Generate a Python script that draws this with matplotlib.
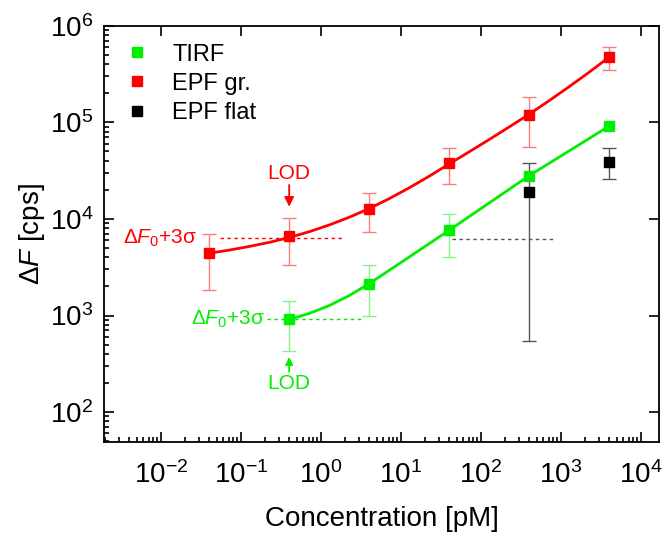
import numpy as np
import matplotlib
matplotlib.use("Agg")
import matplotlib.pyplot as plt
from matplotlib.lines import Line2D
from matplotlib.ticker import FixedLocator, LogLocator, NullFormatter

plt.rcParams['font.family'] = ['Liberation Sans', 'DejaVu Sans']
plt.rcParams['mathtext.fontset'] = 'custom'
plt.rcParams['mathtext.rm'] = 'Liberation Sans'
plt.rcParams['mathtext.it'] = 'Liberation Sans:italic'
plt.rcParams['axes.unicode_minus'] = False

# concentration [pM]
conc = [0.04, 0.4, 4, 40, 400, 4000]

# EPF gr. (red)
epf_gr = [4420, 6730, 12700, 37900, 120000, 476000]
epf_gr_lo = [1850, 3340, 7350, 23000, 55600, 350000]
epf_gr_hi = [7000, 10200, 18400, 53800, 183000, 601000]

# TIRF (green) - starts at 0.4 pM
tirf_conc = [0.4, 4, 40, 400, 4000]
tirf = [913, 2130, 7640, 28000, 91600]
tirf_lo = [425, 1000, 4080, np.nan, np.nan]
tirf_hi = [1410, 3300, 11300, np.nan, np.nan]

# EPF flat (black)
flat_conc = [400, 4000]
flat = [19200, 39200]
flat_lo = [542, 26200]
flat_hi = [37900, 53800]

# fit curves
fit_x = [0.04, 0.0711, 0.1265, 0.225, 0.4, 0.711, 1.265, 2.25, 4, 7.11, 12.65,
         22.5, 40, 71.1, 126.5, 225, 400, 711, 1265, 2250, 4000]
red_fit_y = [4416, 4758, 5188, 5721, 6420, 7371, 8660, 10410, 12810, 16220, 21010,
             27700, 37150, 49550, 66450, 89660, 121600, 167900, 234400, 331100, 473200]
green_fit_x = fit_x[4:]
green_fit_y = [912, 1050, 1266, 1607, 2138, 2935, 4036, 5553, 7638, 10580, 14640,
               20270, 28050, 37720, 50700, 68150, 91620]

RED = '#ff0000'
GREEN = '#00ee00'

fig = plt.figure(figsize=(6.64, 5.39), dpi=100)
ax = fig.add_axes([0.157, 0.18, 0.836, 0.772])
ax.set_xscale('log')
ax.set_yscale('log')
ax.set_xlim(10**-2.71, 10**4.23)
ax.set_ylim(10**1.69, 10**6)


def err(vals, lo, hi):
    v = np.array(vals, float)
    return np.vstack([v - np.array(lo, float), np.array(hi, float) - v])


# error bars
ax.errorbar(conc, epf_gr, yerr=err(epf_gr, epf_gr_lo, epf_gr_hi), fmt='none',
            ecolor='#f08080', elinewidth=1.0, capsize=5, capthick=1.0, zorder=2)
m = ~np.isnan(np.array(tirf_lo))
ax.errorbar(np.array(tirf_conc)[m], np.array(tirf)[m],
            yerr=err(np.array(tirf)[m], np.array(tirf_lo)[m], np.array(tirf_hi)[m]),
            fmt='none', ecolor='#8af08a', elinewidth=1.0, capsize=5, capthick=1.0, zorder=2)
ax.errorbar(flat_conc, flat, yerr=err(flat, flat_lo, flat_hi), fmt='none',
            ecolor='#555555', elinewidth=1.0, capsize=5, capthick=1.0, zorder=2)

# fit curves
ax.plot(fit_x, red_fit_y, color=RED, lw=2, zorder=3)
ax.plot(green_fit_x, green_fit_y, color=GREEN, lw=2, zorder=3)

# markers
ax.plot(tirf_conc, tirf, ls='none', marker='s', ms=7, color=GREEN, zorder=4)
ax.plot(conc, epf_gr, ls='none', marker='s', ms=7, color=RED, zorder=4)
ax.plot(flat_conc, flat, ls='none', marker='s', ms=7, color='black', zorder=4)

# threshold lines
ax.plot([0.055, 2.0], [6300, 6300], color=RED, lw=1, ls=(0, (2.5, 2.5)), zorder=1)
ax.plot([0.21, 3.35], [913, 913], color=GREEN, lw=1, ls=(0, (2.5, 2.5)), zorder=1)
ax.plot([43, 790], [6200, 6200], color='#555555', lw=1, ls=(0, (2.5, 2.5)), zorder=1)

# annotations
ax.text(0.028, 6300, r'Δ$F_0$+3σ', color=RED, fontsize=15, ha='right', va='center')
ax.text(0.2, 913, r'Δ$F_0$+3σ', color=GREEN, fontsize=15, ha='right', va='center')
ax.text(0.4, 29500, 'LOD', color=RED, fontsize=15, ha='center', va='center')
ax.annotate('', xy=(0.4, 13400), xytext=(0.4, 22500),
            arrowprops=dict(arrowstyle='-|>', color=RED, lw=1.3, mutation_scale=14,
                            shrinkA=0, shrinkB=0))
ax.text(0.4, 198, 'LOD', color=GREEN, fontsize=15, ha='center', va='center')
ax.annotate('', xy=(0.4, 372), xytext=(0.4, 262),
            arrowprops=dict(arrowstyle='-|>', color=GREEN, lw=1.3, mutation_scale=11,
                            shrinkA=0, shrinkB=0))

ax.set_xlabel('Concentration [pM]', fontsize=20, labelpad=12)
ax.set_ylabel(r'Δ$F$ [cps]', fontsize=20, labelpad=2)

ax.xaxis.set_major_locator(FixedLocator([1e-2, 1e-1, 1e0, 1e1, 1e2, 1e3, 1e4]))
ax.xaxis.set_minor_locator(LogLocator(base=10, subs=np.arange(2, 10), numticks=30))
ax.yaxis.set_major_locator(FixedLocator([1e2, 1e3, 1e4, 1e5, 1e6]))
ax.yaxis.set_minor_locator(LogLocator(base=10, subs=np.arange(2, 10), numticks=30))
ax.xaxis.set_minor_formatter(NullFormatter())
ax.yaxis.set_minor_formatter(NullFormatter())

ax.tick_params(which='both', direction='in', labelsize=20, width=1.2)
ax.tick_params(which='major', length=7, top=True, right=True, pad=8)
ax.tick_params(axis='x', which='major', pad=14)
ax.tick_params(which='minor', length=3.5, top=False, right=False)
for s in ax.spines.values():
    s.set_linewidth(1.3)

handles = [Line2D([], [], ls='none', marker='s', ms=7, color=c) for c in (GREEN, RED, 'black')]
ax.legend(handles, ['TIRF', 'EPF gr.', 'EPF flat'], loc='upper left', frameon=False,
          fontsize=17, handlelength=1.0, handletextpad=1.0, labelspacing=0.3,
          bbox_to_anchor=(0.02, 0.98), borderaxespad=0)

fig.savefig('out.png', dpi=100)
